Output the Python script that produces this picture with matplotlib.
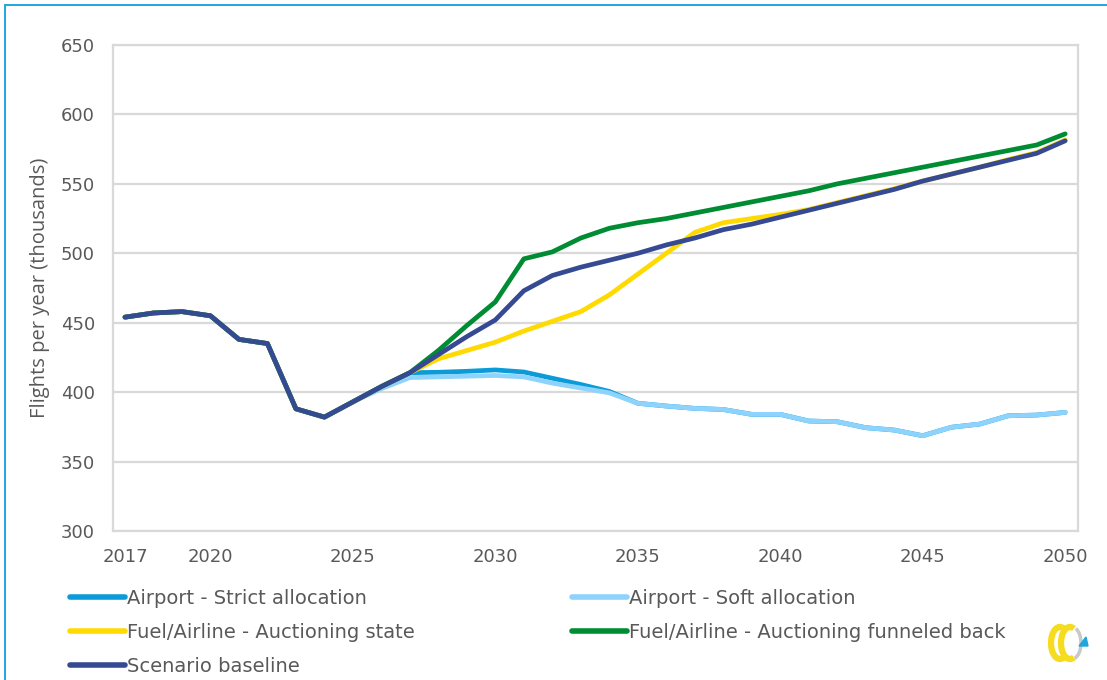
import matplotlib
matplotlib.use("Agg")
import matplotlib.pyplot as plt
from matplotlib.patches import Rectangle, Arc, Polygon

years = list(range(2017, 2051))

baseline = [454, 457, 458, 455, 438, 435, 388, 382, 393, 404, 414,
            427, 440, 452, 473, 484, 490, 495, 500, 506, 511, 517,
            521, 526, 531, 536, 541, 546, 552, 557, 562, 567, 572, 581]
strict = [454, 457, 458, 455, 438, 435, 388, 382, 393, 404, 414,
          414.3, 415, 416, 414.5, 410, 405.5, 400.5, 392, 390, 388.3, 387.5,
          384, 384, 379.2, 378.7, 374.4, 372.7, 368.6, 374.7, 377, 383, 383.5, 385.4]
soft = [454, 457, 458, 455, 438, 435, 388, 382, 393, 402.5, 410.5,
        411, 411.5, 412, 411, 406.5, 403, 399.5, 392, 390, 388.3, 387.5,
        384, 384, 379.2, 378.7, 374.4, 372.7, 368.6, 374.7, 377, 383, 383.5, 385.4]
auction_state = [454, 457, 458, 455, 438, 435, 388, 382, 393, 404, 414,
                 424, 430, 436, 444, 451, 458, 470, 485, 500, 515, 522,
                 525, 528, 531.5, 536.5, 541.5, 546.5, 552, 557, 562, 567.5, 572.5, 581.5]
auction_back = [454, 457, 458, 455, 438, 435, 388, 382, 393, 404, 414,
                430, 448, 465, 496, 501, 511, 518, 522, 525, 529, 533,
                537, 541, 545, 550, 554, 558, 562, 566, 570, 574, 578, 586]

series_labels = ["Airport - Strict allocation", "Airport - Soft allocation",
                 "Fuel/Airline - Auctioning state", "Fuel/Airline - Auctioning funneled back",
                 "Scenario baseline"]
series_values = [strict, soft, auction_state, auction_back, baseline]
colors = ["#0A9BD8", "#8DD3FB", "#FFDA00", "#008C32", "#354A93"]

xticks = [2017, 2020, 2025, 2030, 2035, 2040, 2045, 2050]
yticks = [300, 350, 400, 450, 500, 550, 600, 650]
ylabel = "Flights per year (thousands)"

W, H = 1107, 680
fig = plt.figure(figsize=(W / 100, H / 100), dpi=100)
ax = fig.add_axes([113 / W, 1 - 531 / H, (1078 - 113) / W, (531 - 45) / H])

lines = []
for vals, col, lab in zip(series_values, colors, series_labels):
    ln, = ax.plot(years, vals, color=col, lw=3.4, solid_capstyle="round",
                  solid_joinstyle="round", label=lab, zorder=3)
    lines.append(ln)

ax.set_xlim(2016.58, 2050.45)
ax.set_ylim(300, 650)
ax.set_xticks(xticks)
ax.set_yticks(yticks)
ax.grid(axis="y", color="#D9D9D9", lw=1.6)
ax.set_axisbelow(True)
for s in ax.spines.values():
    s.set_color("#D9D9D9")
    s.set_linewidth(1.6)
ax.tick_params(length=0, labelcolor="#595959", labelsize=13)
ax.tick_params(axis="x", pad=12)
ax.tick_params(axis="y", pad=13)
ax.set_ylabel(ylabel, family="Open Sans", fontsize=14.5, color="#595959", labelpad=8)

leg_kw = dict(loc="upper left", frameon=False, fontsize=14, handlelength=2.85,
              handletextpad=0.1, labelspacing=0.78, borderpad=0, borderaxespad=0)
col1 = [lines[0], lines[2], lines[4]]
col2 = [lines[1], lines[3]]
leg1 = fig.legend(col1, [l.get_label() for l in col1],
                  bbox_to_anchor=(70 / W, 1 - 588.5 / H), **leg_kw)
leg2 = fig.legend(col2, [l.get_label() for l in col2],
                  bbox_to_anchor=(572 / W, 1 - 588.5 / H), **leg_kw)
for lg in (leg1, leg2):
    for t in lg.get_texts():
        t.set_color("#595959")
    for h in lg.legend_handles:
        h.set_linewidth(4)
        h.set_solid_capstyle("round")

# outer frame
fig.add_artist(Rectangle((5 / W, -0.05), 1.1, 1 - 5 / H + 0.05, transform=fig.transFigure,
                         fill=False, edgecolor="#1FA6DF", lw=1.4))

# logo
lax = fig.add_axes([1040 / W, 1 - 668 / H, 55 / W, 50 / H])
lax.set_xlim(0, 55)
lax.set_ylim(0, 50)
lax.set_aspect("equal")
lax.axis("off")
lax.add_patch(Arc((20, 25), 18, 32, theta1=75, theta2=285, color="#F5DC1E", lw=4.5))
lax.add_patch(Arc((30, 25), 18, 32, theta1=75, theta2=285, color="#F5DC1E", lw=4.5))
lax.add_patch(Arc((32, 25), 18, 32, theta1=-80, theta2=75, color="#C8C8C8", lw=2.5))
lax.add_patch(Polygon([[39, 22], [48, 22], [46, 31]], closed=True, color="#1FA6DF"))

fig.savefig("out.png", dpi=100)
